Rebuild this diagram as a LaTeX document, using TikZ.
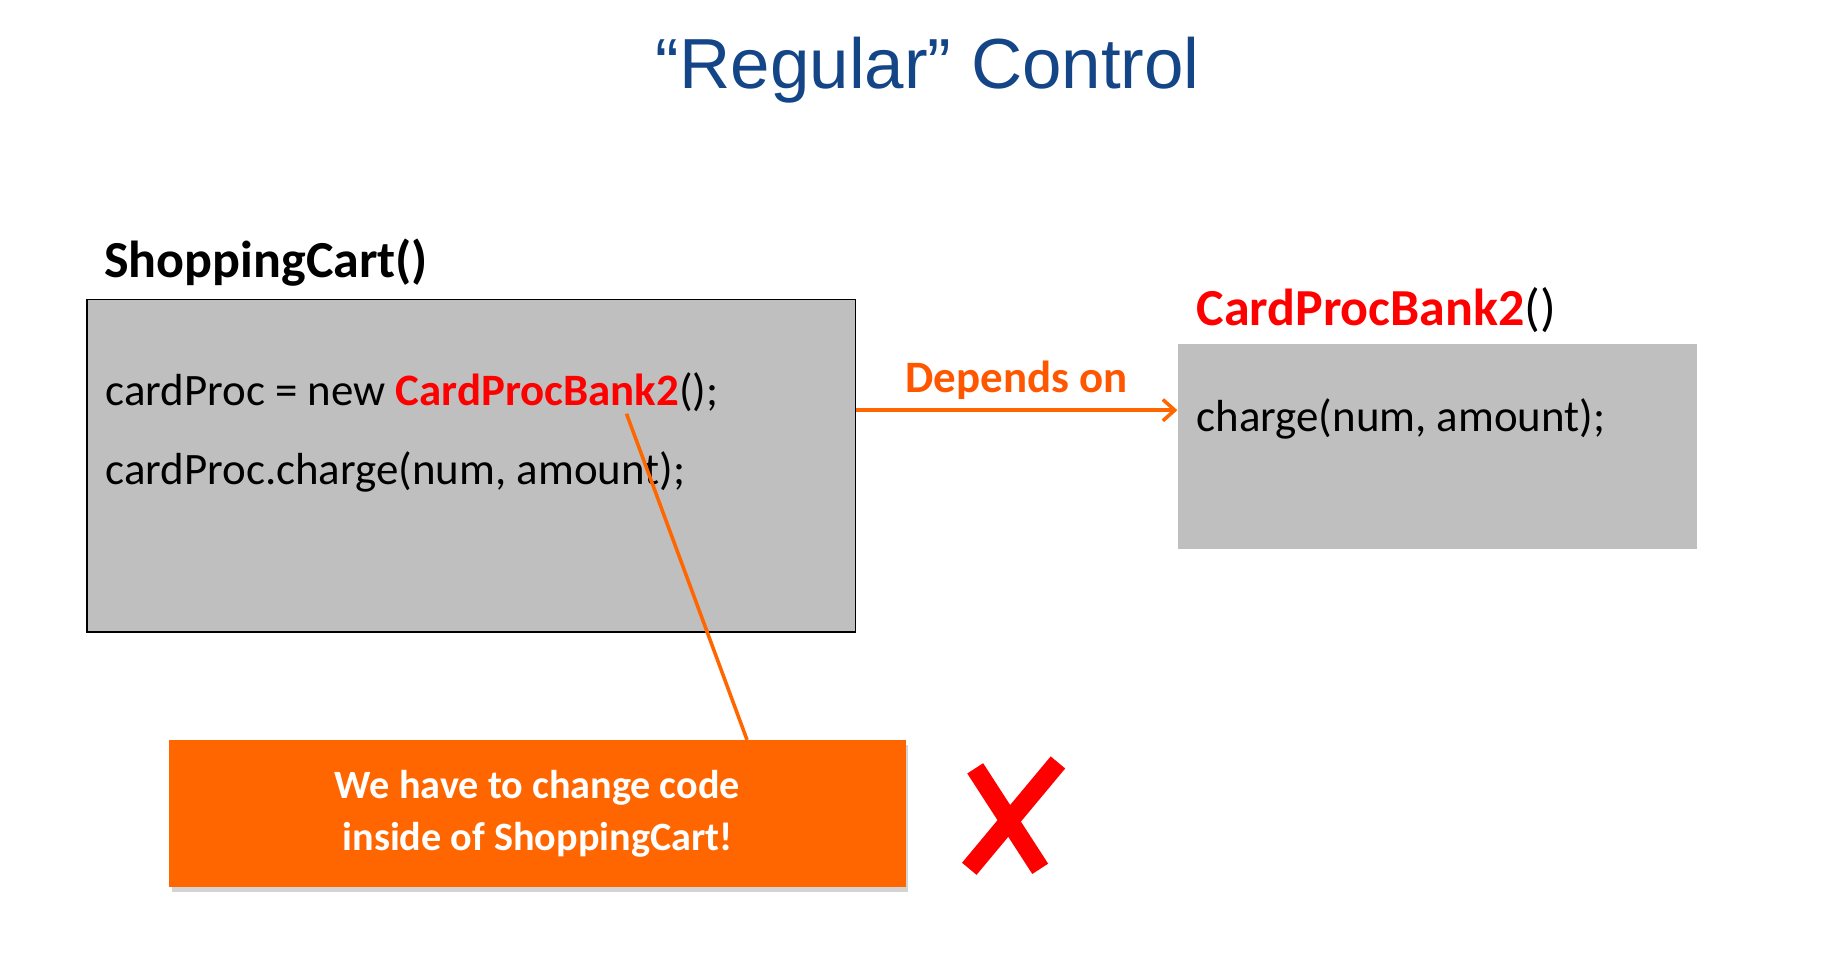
\documentclass[tikz,border=0pt]{standalone}
\usepackage{fontspec}
\setmainfont{Carlito}
\newfontfamily\titlefont{Liberation Sans}
\usetikzlibrary{shadows,arrows.meta}
\definecolor{titleblue}{RGB}{20,70,135}
\definecolor{boxgray}{RGB}{191,191,191}
\definecolor{orng}{RGB}{255,102,0}
\definecolor{rd}{RGB}{255,0,0}
\begin{document}
\begin{tikzpicture}[x=1pt,y=-1pt,
  code/.style={anchor=base west,inner sep=0,font=\fontsize{38}{40}\selectfont},
  hdr/.style={anchor=base west,inner sep=0,font=\fontsize{44}{46}\selectfont\bfseries}]
\useasboundingbox (0,0) rectangle (1560,824);
\node[anchor=base,inner sep=0,text=titleblue,font=\titlefont\fontsize{60}{62}\selectfont] (title) at (785,75) {“Regular” Control};
\node[hdr] (sch) at (88,235) {ShoppingCart()};
\node[draw=black,line width=1.2pt,fill=boxgray,minimum width=650,minimum height=281,anchor=north west,inner sep=0] (sc) at (73,253) {};
\node[code] (l1) at (89,343) {cardProc = new \textcolor{rd}{\bfseries CardProcBank2}();};
\node[code] (l2) at (89,410) {cardProc.charge(num, amount);};
\node[hdr] (cph) at (1012,275) {\textcolor{rd}{CardProcBank2}\mdseries()};
\node[fill=boxgray,minimum width=439,minimum height=173,anchor=north west,inner sep=0] (cp) at (996,291) {};
\node[code] (l3) at (1012,365) {charge(num, amount);};
\draw[orng,line width=3pt,-{Straight Barb[length=10pt,width=18pt]}] (sc.east|-0,347) -- node[above=4pt,text=orng!85!red,font=\fontsize{38}{40}\selectfont\bfseries]{Depends on} (cp.west|-0,347);
\node[fill=orng,minimum width=623,minimum height=124,anchor=north west,inner sep=0,drop shadow={shadow xshift=2pt,shadow yshift=-4pt,opacity=0.35}] (call) at (143,626) {};
\node[text=white,align=center,font=\fontsize{34}{44}\selectfont\bfseries] (ct) at (call.center) {We have to change code\\inside of ShoppingCart!};
\coordinate (pt) at (530,350);
\draw[orng,line width=3pt] (pt) -- (call.north -| 632,0);
\draw[rd,line width=16pt] (825,650) -- (880,735);
\draw[rd,line width=16pt] (895,645) -- (820,735);
\end{tikzpicture}
\end{document}
